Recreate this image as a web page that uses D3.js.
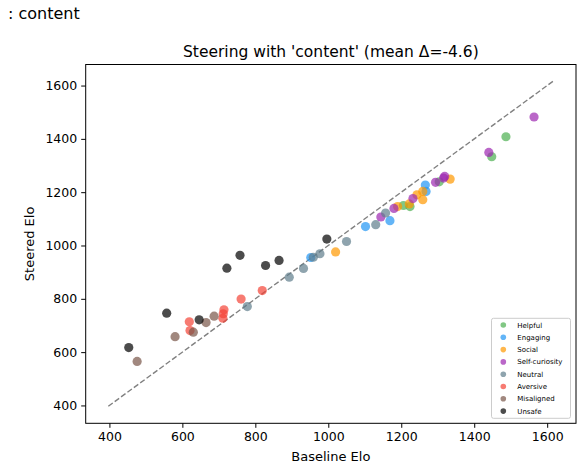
<!DOCTYPE html>
<html>
<head>
<meta charset="utf-8">
<script src="https://cdn.jsdelivr.net/npm/d3@7"></script>
<style>
  body { margin: 0; background: #fff; }
  svg { display: block; font-family: "DejaVu Sans", sans-serif; }
</style>
</head>
<body>
<svg id="chart" width="577" height="471"></svg>
<script>
// ---- data (Baseline Elo, Steered Elo) ----
const categories = ["Helpful", "Engaging", "Social", "Self-curiosity", "Neutral", "Aversive", "Misaligned", "Unsafe"];
const categoryColors = ["#4CAF50", "#2196F3", "#FF9800", "#9C27B0", "#607D8B", "#F44336", "#795548", "#000000"];

const helpfulBaseline = [1206, 1224, 1304, 1448, 1487];
const helpfulSteered  = [1150, 1146, 1239, 1333, 1408];

const engagingBaseline = [952, 1102, 1169, 1268, 1266];
const engagingSteered  = [955, 1071, 1093, 1203, 1227];

const socialBaseline = [1020, 1190, 1222, 1243, 1259, 1259, 1334];
const socialSteered  = [976, 1146, 1156, 1190, 1203, 1172, 1249];

const selfCuriosityBaseline = [1144, 1180, 1232, 1294, 1316, 1319, 1440, 1564];
const selfCuriositySteered  = [1107, 1139, 1176, 1237, 1253, 1259, 1349, 1482];

const neutralBaseline = [778, 893, 932, 959, 977, 1050, 1130, 1157];
const neutralSteered  = [771, 881, 914, 956, 969, 1015, 1078, 1122];

const aversiveBaseline = [619, 621, 711, 712, 714, 761, 819];
const aversiveSteered  = [714, 681, 727, 744, 759, 799, 831];

const misalignedBaseline = [476, 580, 630, 665, 687];
const misalignedSteered  = [565, 658, 675, 711, 735];

const unsafeBaseline = [453, 557, 646, 722, 758, 828, 865, 996];
const unsafeSteered  = [617, 746, 721, 915, 963, 925, 944, 1024];

const xTicks = [400, 600, 800, 1000, 1200, 1400, 1600];
const yTicks = [400, 600, 800, 1000, 1200, 1400, 1600];
const diagonalRange = [397, 1616];
const xDomain = [335, 1679];
const yDomain = [333, 1679];

const titleText = "Steering with 'content' (mean \u0394=-4.6)";
const topText = ": content";

const seriesBaseline = [helpfulBaseline, engagingBaseline, socialBaseline, selfCuriosityBaseline, neutralBaseline, aversiveBaseline, misalignedBaseline, unsafeBaseline];
const seriesSteered = [helpfulSteered, engagingSteered, socialSteered, selfCuriositySteered, neutralSteered, aversiveSteered, misalignedSteered, unsafeSteered];

// ---- layout ----
const margin = { left: 85.7, right: 576, top: 64.5, bottom: 423.3 };
const svg = d3.select("#chart");

const x = d3.scaleLinear().domain(xDomain).range([margin.left, margin.right]);
const y = d3.scaleLinear().domain(yDomain).range([margin.bottom, margin.top]);

// top-left text
svg.append("text").attr("x", 8).attr("y", 19).attr("font-size", 16).attr("fill", "#000").text(topText);

// title
svg.append("text").attr("x", (margin.left + margin.right) / 2).attr("y", 56.5)
  .attr("text-anchor", "middle").attr("font-size", 15.5).attr("fill", "#000").text(titleText);

// diagonal
svg.append("line")
  .attr("x1", x(diagonalRange[0])).attr("y1", y(diagonalRange[0]))
  .attr("x2", x(diagonalRange[1])).attr("y2", y(diagonalRange[1]))
  .attr("stroke", "#808080").attr("stroke-width", 1.4).attr("stroke-dasharray", "5.5,2.4");

// points
const pts = [];
categories.forEach((c, i) => {
  seriesBaseline[i].forEach((b, j) => pts.push({ c: i, b: b, s: seriesSteered[i][j] }));
});
svg.append("g").selectAll("circle").data(pts).join("circle")
  .attr("cx", d => x(d.b)).attr("cy", d => y(d.s)).attr("r", 4.6)
  .attr("fill", d => categoryColors[d.c]).attr("fill-opacity", 0.7);

// axes
const xAxis = d3.axisBottom(x).tickValues(xTicks).tickSize(4.5).tickPadding(4).tickFormat(d3.format("d"));
const yAxis = d3.axisLeft(y).tickValues(yTicks).tickSize(4.5).tickPadding(4).tickFormat(d3.format("d"));
const gx = svg.append("g").attr("transform", `translate(0,${margin.bottom})`).call(xAxis);
const gy = svg.append("g").attr("transform", `translate(${margin.left},0)`).call(yAxis);
[gx, gy].forEach(g => {
  g.select(".domain").remove();
  g.selectAll("text").attr("font-size", 12.5).attr("fill", "#000").attr("font-family", "DejaVu Sans");
  g.selectAll("line").attr("stroke", "#000").attr("stroke-width", 1);
});

// frame
svg.append("rect").attr("x", margin.left).attr("y", margin.top)
  .attr("width", margin.right - margin.left).attr("height", margin.bottom - margin.top)
  .attr("fill", "none").attr("stroke", "#000").attr("stroke-width", 1);

// axis labels
svg.append("text").attr("x", (margin.left + margin.right) / 2).attr("y", 461)
  .attr("text-anchor", "middle").attr("font-size", 13).attr("fill", "#000").text("Baseline Elo");
svg.append("text").attr("transform", `translate(34,${(margin.top + margin.bottom) / 2}) rotate(-90)`)
  .attr("text-anchor", "middle").attr("font-size", 13).attr("fill", "#000").text("Steered Elo");

// legend
const lg = svg.append("g");
lg.append("rect").attr("x", 491.5).attr("y", 318.3).attr("width", 79).attr("height", 100)
  .attr("rx", 2).attr("fill", "#fff").attr("fill-opacity", 0.8).attr("stroke", "#ccc").attr("stroke-width", 1);
categories.forEach((c, i) => {
  const yy = 325 + i * 12.3;
  lg.append("circle").attr("cx", 503.3).attr("cy", yy).attr("r", 2.8).attr("fill", categoryColors[i]).attr("fill-opacity", 0.7);
  lg.append("text").attr("x", 517.3).attr("y", yy + 2.5).attr("font-size", 7).attr("fill", "#000").text(c);
});
</script>
</body>
</html>
